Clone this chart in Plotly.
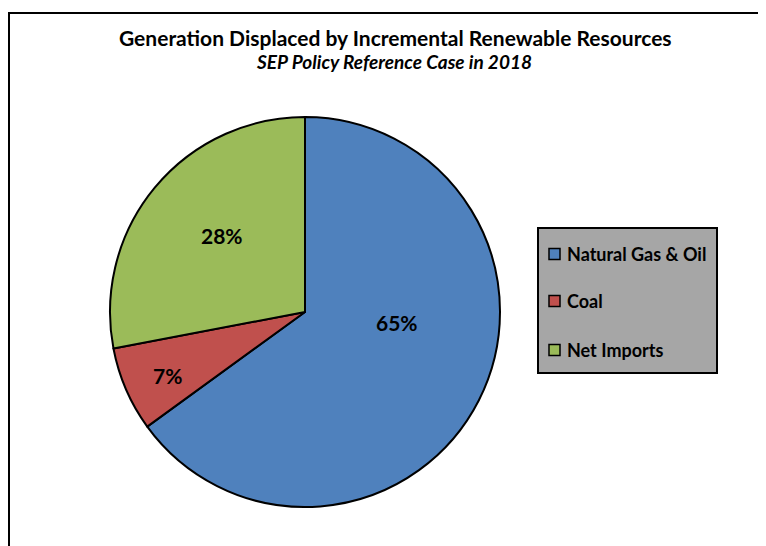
import plotly.graph_objects as go

labels = ["Natural Gas & Oil", "Coal", "Net Imports"]
values = [65, 7, 28]
colors = ["#4f81bd", "#c0504d", "#9bbb59"]
title_text = "Generation Displaced by Incremental Renewable Resources"
subtitle_text = "SEP Policy Reference Case in 2018"

# label placement (page pixels, like the reference's best-fit labels)
label_xy = [(397, 322), (167, 375), (222, 235)]

W, H = 766, 546
OFF = 8  # page body margin around the plot div
FONT = "Lato"


def px(x):
    return (x - OFF) / W


def py(y):
    return 1 - (y - OFF) / H


cx, cy, r = 305, 312, 195

fig = go.Figure()
fig.add_trace(go.Pie(
    labels=labels,
    values=values,
    sort=False,
    direction="clockwise",
    rotation=0,
    marker=dict(colors=colors, line=dict(color="black", width=2)),
    textinfo="none",
    domain=dict(x=[px(cx - r), px(cx + r)], y=[py(cy + r), py(cy - r)]),
    showlegend=False,
    hoverinfo="label+percent",
))

shapes = []
annotations = []

total = sum(values)
for v, (lx, ly) in zip(values, label_xy):
    annotations.append(dict(xref="paper", yref="paper", x=px(lx), y=py(ly),
                            xanchor="center", yanchor="middle", showarrow=False,
                            text=f"{round(100 * v / total)}%",
                            font=dict(family=FONT, size=21, color="black", weight="bold")))

# outer frame (cropped on right and bottom)
shapes.append(dict(type="rect", xref="paper", yref="paper",
                   x0=px(9), x1=px(W + 40), y0=py(H + 40), y1=py(13),
                   line=dict(color="black", width=2), fillcolor="rgba(0,0,0,0)", layer="above"))

# legend box
lx0, ly0, lx1, ly1 = 538, 228, 717, 373
shapes.append(dict(type="rect", xref="paper", yref="paper",
                   x0=px(lx0), x1=px(lx1), y0=py(ly1), y1=py(ly0),
                   line=dict(color="black", width=2), fillcolor="#a6a6a6"))
item_y = [254, 301, 350]
for lab, col, yy in zip(labels, colors, item_y):
    shapes.append(dict(type="rect", xref="paper", yref="paper",
                       x0=px(549), x1=px(560), y0=py(yy + 5.5), y1=py(yy - 5.5),
                       line=dict(color="black", width=1.5), fillcolor=col))
    annotations.append(dict(xref="paper", yref="paper", x=px(565), y=py(yy),
                            xanchor="left", yanchor="middle", showarrow=False,
                            text=lab, font=dict(family=FONT, size=18, color="black", weight="bold")))

annotations.append(dict(xref="paper", yref="paper", x=px(395), y=py(37),
                        xanchor="center", yanchor="middle", showarrow=False,
                        text=title_text, font=dict(family=FONT, size=21, color="black", weight="bold")))
annotations.append(dict(xref="paper", yref="paper", x=px(394), y=py(62),
                        xanchor="center", yanchor="middle", showarrow=False,
                        text="<i>" + subtitle_text + "</i>",
                        font=dict(family=FONT, size=19, color="black", weight="bold")))

fig.update_layout(
    width=W, height=H,
    margin=dict(l=0, r=0, t=0, b=0),
    paper_bgcolor="white", plot_bgcolor="white",
    shapes=shapes, annotations=annotations,
    showlegend=False,
)

fig.write_html("out.html")
